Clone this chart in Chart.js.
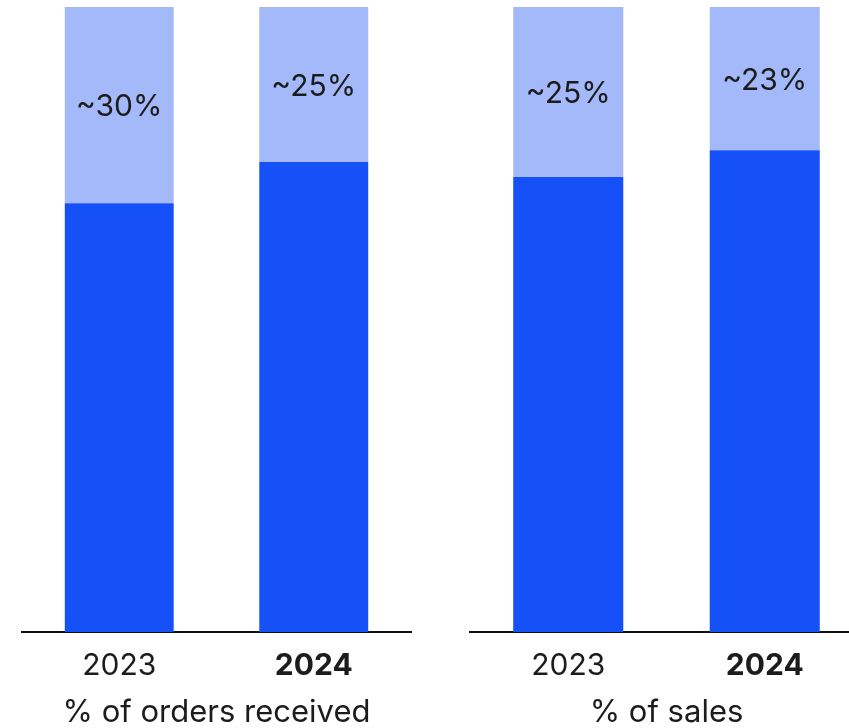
<!DOCTYPE html>
<html>
<head>
<meta charset="utf-8">
<script src="https://cdn.jsdelivr.net/npm/chart.js@4/dist/chart.umd.min.js"></script>
<style>
  html, body { margin: 0; padding: 0; background: #ffffff; width: 849px; height: 728px; overflow: hidden; position: relative; }
  #c1 { position: absolute; left: 0; top: 0; }
  #c2 { position: absolute; left: 420px; top: 0; }
</style>
</head>
<body>
<canvas id="c1" width="420" height="728"></canvas>
<canvas id="c2" width="450" height="728"></canvas>
<script>
const categories = ['2023', '2024'];
const ordersBase = [68.6, 75.2];
const ordersShare = [31.4, 24.8];
const ordersLabels = ['~30%', '~25%'];
const salesBase = [72.8, 77.1];
const salesShare = [27.2, 22.9];
const salesLabels = ['~25%', '~23%'];
const titles = ['% of orders received', '% of sales'];

const DARK = '#1650F7';
const LIGHT = '#A3B9FA';
const TEXT = '#1c1c1c';
const FONT = 'Inter, "Noto Sans", sans-serif';

const segLabels = {
  id: 'segLabels',
  afterDatasetsDraw(chart, args, opts) {
    const ctx = chart.ctx;
    const meta = chart.getDatasetMeta(1);
    ctx.save();
    ctx.fillStyle = TEXT;
    ctx.font = '400 30px ' + FONT;
    ctx.textAlign = 'center';
    ctx.textBaseline = 'middle';
    meta.data.forEach((bar, i) => {
      const p = bar.getProps(['x', 'y', 'base'], true);
      ctx.fillText(opts.labels[i], p.x, (p.y + p.base) / 2 + 2);
    });
    ctx.restore();
  }
};

function makeChart(id, base, share, labels, title, padL, padR) {
  return new Chart(document.getElementById(id), {
    type: 'bar',
    data: {
      labels: categories,
      datasets: [
        { data: base, backgroundColor: DARK, borderWidth: 0 },
        { data: share, backgroundColor: LIGHT, borderWidth: 0 }
      ]
    },
    options: {
      responsive: false,
      animation: false,
      barPercentage: 0.56,
      categoryPercentage: 1,
      layout: { padding: { top: 7, left: padL, right: padR, bottom: 0 } },
      plugins: {
        legend: { display: false },
        tooltip: { enabled: false },
        segLabels: { labels: labels }
      },
      scales: {
        y: { stacked: true, display: false, min: 0, max: 100 },
        x: {
          stacked: true,
          grid: { display: false, drawTicks: false },
          border: { display: true, color: '#111111', width: 2 },
          afterFit: (scale) => { scale.height = 96; },
          ticks: {
            padding: 19,
            color: TEXT,
            font: (c) => ({ family: FONT, size: 30, lineHeight: 1, weight: c.index === 1 ? '700' : '400' })
          },
          title: {
            display: true,
            text: title,
            color: TEXT,
            font: { family: FONT, size: 31, lineHeight: 1, weight: '400' },
            padding: { top: 14, bottom: 0 }
          }
        }
      }
    },
    plugins: [segLabels]
  });
}

makeChart('c1', ordersBase, ordersShare, ordersLabels, titles[0], 22, 9);
makeChart('c2', salesBase, salesShare, salesLabels, titles[1], 50, 7);
</script>
</body>
</html>
